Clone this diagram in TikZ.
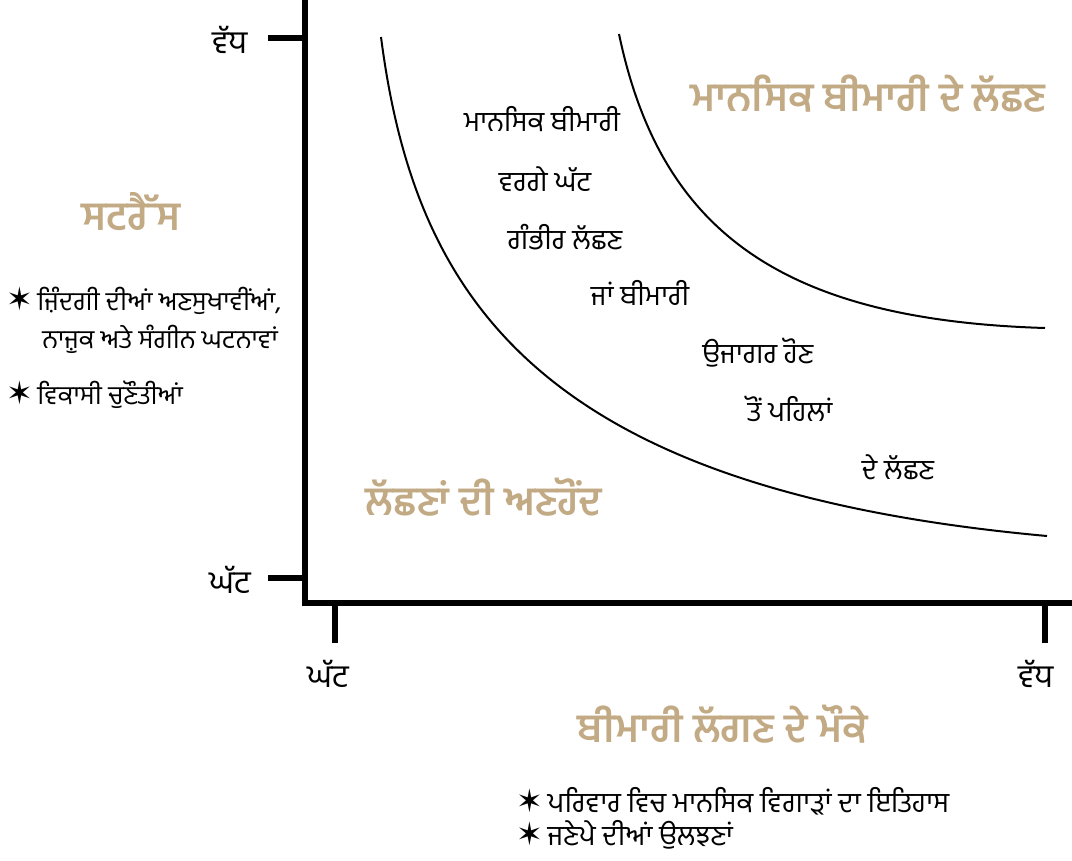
\documentclass[tikz,border=0pt]{standalone}
\usepackage{fontspec}
\newfontfamily\pa[Script=Gurmukhi]{Hind Jalandhar}
\newfontfamily\pab[Script=Gurmukhi]{Hind Jalandhar SemiBold}
\newfontfamily\dv{DejaVu Sans Bold}
\newcommand{\bstar}{{\dv\fontsize{24pt}{24pt}\selectfont ✶}\,}
\definecolor{tan}{RGB}{194,170,132}
\tikzset{
  ax/.style={line width=3.8pt},
  crv/.style={line width=1.5pt},
  lbl/.style={font=\pa\fontsize{21pt}{24pt}\selectfont, inner sep=0pt},
  tck/.style={font=\pa\fontsize{24pt}{28pt}\selectfont, inner sep=0pt},
  ttl/.style={font=\pab\fontsize{30pt}{34pt}\selectfont, text=tan, inner sep=0pt},
  lst/.style={font=\pa\fontsize{19.5pt}{22pt}\selectfont, inner sep=0pt, anchor=west},
  lstb/.style={font=\pa\fontsize{21pt}{24pt}\selectfont, inner sep=0pt, anchor=west},
}
\begin{document}
\begin{tikzpicture}[x=0.75pt,y=-0.75pt]
\useasboundingbox (0,0) rectangle (1072,861);
% axes
\coordinate (top) at (305,0);
\coordinate (origin) at (305,603);
\coordinate (right) at (1072,603);
\draw[ax] (top) -- (origin) -- (right);
\coordinate (ty1) at (268,38); \coordinate (ty1e) at (305,38);
\coordinate (ty2) at (268,578); \coordinate (ty2e) at (305,578);
\coordinate (tx1) at (335,643); \coordinate (tx1e) at (335,603);
\coordinate (tx2) at (1045,643); \coordinate (tx2e) at (1045,603);
\draw[ax] (ty1) -- (ty1e);
\draw[ax] (ty2) -- (ty2e);
\draw[ax] (tx1) -- (tx1e);
\draw[ax] (tx2) -- (tx2e);
% tick labels
\node[tck] (yhi) at (230,40) {ਵੱਧ};
\node[tck] (ylo) at (230,580) {ਘੱਟ};
\node[tck] (xlo) at (328,674) {ਘੱਟ};
\node[tck] (xhi) at (1036,674) {ਵੱਧ};
% curves
\coordinate (c1s) at (381,37); \coordinate (c1e) at (1047,536);
\draw[crv] (c1s) .. controls (415,300) and (540,490) .. (c1e);
\coordinate (c2s) at (619,34); \coordinate (c2e) at (1045,328);
\draw[crv] (c2s) .. controls (660,230) and (780,320) .. (c2e);
% inner labels
\node[lbl] (t1) at (542,119) {ਮਾਨਸਿਕ ਬੀਮਾਰੀ};
\node[lbl] (t2) at (545,179) {ਵਰਗੇ ਘੱਟ};
\node[lbl] (t3) at (565,237) {ਗੰਭੀਰ ਲੱਛਣ};
\node[lbl] (t4) at (640,293) {ਜਾਂ ਬੀਮਾਰੀ};
\node[lbl] (t5) at (758,353) {ਉਜਾਗਰ ਹੋਣ};
\node[lbl] (t6) at (790,409) {ਤੋਂ ਪਹਿਲਾਂ};
\node[lbl] (t7) at (898,467) {ਦੇ ਲੱਛਣ};
% titles
\node[ttl] (z1) at (868,94) {ਮਾਨਸਿਕ ਬੀਮਾਰੀ ਦੇ ਲੱਛਣ};
\node[ttl] (z2) at (484,497) {ਲੱਛਣਾਂ ਦੀ ਅਣਹੋਂਦ};
\node[ttl] (xt) at (723,724) {ਬੀਮਾਰੀ ਲੱਗਣ ਦੇ ਮੌਕੇ};
\node[ttl] (yt) at (131,212) {ਸਟਰੈੱਸ};
% lists
\node[lst] (l1) at (6,301) {\bstar ਜ਼ਿੰਦਗੀ ਦੀਆਂ ਅਣਸੁਖਾਵੀਂਆਂ,};
\node[lst] (l2) at (42,339) {ਨਾਜ਼ੁਕ ਅਤੇ ਸੰਗੀਨ ਘਟਨਾਵਾਂ};
\node[lst] (l3) at (6,395) {\bstar ਵਿਕਾਸੀ ਚੁਣੌਤੀਆਂ};
\node[lstb] (b1) at (516,801) {\bstar ਪਰਿਵਾਰ ਵਿਚ ਮਾਨਸਿਕ ਵਿਗਾੜਾਂ ਦਾ ਇਤਿਹਾਸ};
\node[lstb] (b2) at (516,835) {\bstar ਜਣੇਪੇ ਦੀਆਂ ਉਲਝਣਾਂ};
\end{tikzpicture}
\end{document}
